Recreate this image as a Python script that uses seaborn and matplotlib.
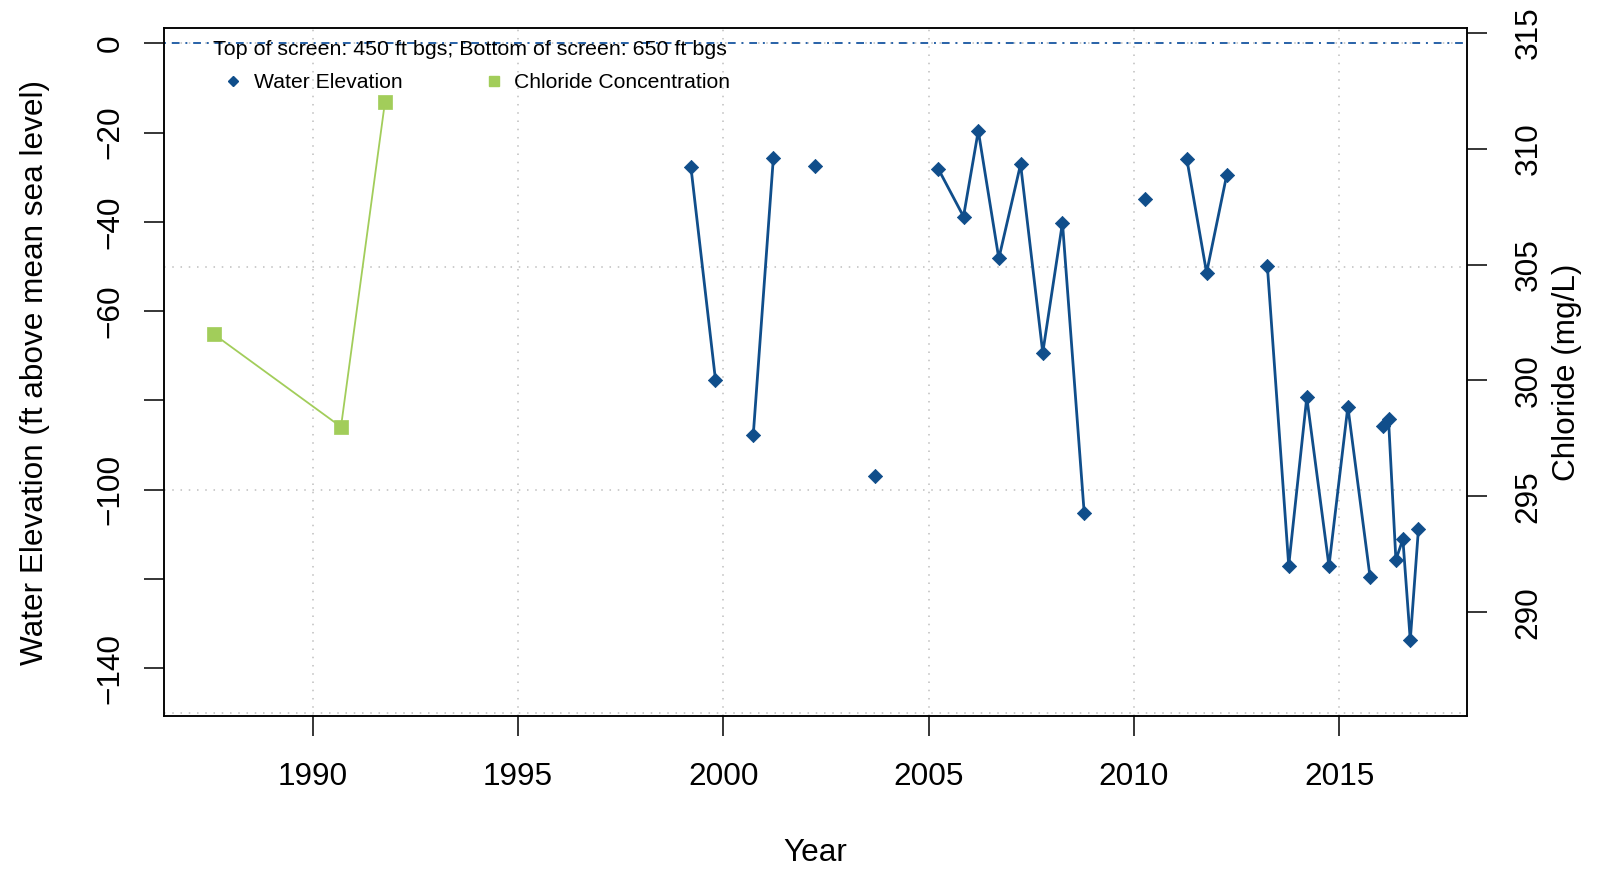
import matplotlib
matplotlib.use("Agg")
import matplotlib.pyplot as plt
from matplotlib.lines import Line2D
import pandas as pd
import seaborn as sns

# water elevation samples (ft above mean sea level); run id = samples joined by one line
elev_year = [1999.21, 1999.81, 2000.73, 2001.22, 2002.23, 2003.69, 2005.24, 2005.85,
             2006.21, 2006.71, 2007.24, 2007.78, 2008.26, 2008.79, 2010.27, 2011.29,
             2011.77, 2012.26, 2013.25, 2013.77, 2014.21, 2014.75, 2015.21, 2015.75,
             2016.06, 2016.20, 2016.38, 2016.55, 2016.73, 2016.93]
elev_ft = [-27.6, -75.4, -87.7, -25.6, -27.4, -96.9, -28.2, -38.8,
           -19.6, -48.2, -27.1, -69.3, -40.2, -105.3, -34.9, -26.0,
           -51.4, -29.5, -49.9, -117.0, -79.3, -117.1, -81.4, -119.5,
           -85.7, -84.2, -115.7, -111.1, -133.7, -108.7]
elev_run = [0, 0, 1, 1, 2, 3, 4, 4,
            4, 4, 4, 4, 4, 4, 5, 6,
            6, 6, 7, 7, 7, 7, 7, 7,
            8, 8, 8, 8, 8, 8]

# chloride samples (mg/L)
chl_year = [1987.59, 1990.69, 1991.76]
chl_mgl = [302, 298, 312]

x_ticks = [1990, 1995, 2000, 2005, 2010, 2015]
elev_ticks = [0, -20, -40, -60, -80, -100, -120, -140]
elev_tick_labels = ["0", "\u221220", "\u221240", "\u221260", "", "\u2212100", "", "\u2212140"]
chl_ticks = [290, 295, 300, 305, 310, 315]
grid_elev = [0, -50, -100, -150]

legend_labels = ["Water Elevation", "Chloride Concentration"]
note = "Top of screen: 450 ft bgs; Bottom of screen: 650 ft bgs"

blue = "#104E8B"
green = "#A2CD5A"
ref_blue = "#2862A8"
grid_col = "#BEBEBE"
big = 22.7

plt.rcParams['font.family'] = ['Liberation Sans', 'DejaVu Sans']

fig = plt.figure(figsize=(15.97, 8.71), dpi=100)
ax = fig.add_axes([0.1027, 0.1780, 0.8156, 0.7895])

for gx in x_ticks:
    ax.axvline(gx, color=grid_col, lw=1.1, ls=(0, (1, 4.4)), zorder=0)
for gy in grid_elev:
    ax.axhline(gy, color=grid_col, lw=1.1, ls=(0, (1, 4.4)), zorder=0)
ax.axhline(0, color=ref_blue, lw=1.4, ls=(0, (1, 3, 4, 3)), zorder=1)

elev = pd.DataFrame({"year": elev_year, "elev": elev_ft, "run": elev_run})
sns.lineplot(data=elev, x="year", y="elev", units="run", estimator=None,
             color=blue, lw=2.0, ax=ax, legend=False, zorder=2)
sns.scatterplot(data=elev, x="year", y="elev", marker="D", s=52, color=blue,
                edgecolor=blue, linewidth=0.6, ax=ax, legend=False, zorder=3)

ax2 = ax.twinx()
chl = pd.DataFrame({"year": chl_year, "chl": chl_mgl})
sns.lineplot(data=chl, x="year", y="chl", color=green, lw=1.3, ax=ax2, legend=False)
sns.scatterplot(data=chl, x="year", y="chl", marker="s", s=100, color=green,
                edgecolor=green, linewidth=0.5, ax=ax2, legend=False, zorder=3)

ax.set_xlim(1986.38, 2018.10)
ax.set_ylim(-150.68, 3.36)
ax2.set_ylim(285.53, 315.19)

ax.set_xticks(x_ticks)
ax.set_xticklabels([str(v) for v in x_ticks])
ax.set_yticks(elev_ticks)
ax.set_yticklabels(elev_tick_labels)
ax2.set_yticks(chl_ticks)
ax2.set_yticklabels([str(v) for v in chl_ticks])

ax.tick_params(axis="both", length=14.5, width=1.1, labelsize=big, direction="out")
ax.tick_params(axis="x", pad=19.0)
ax.tick_params(axis="y", pad=13.0, labelrotation=90)
ax2.tick_params(axis="y", length=14.5, width=1.1, labelsize=big, pad=19.4, labelrotation=90)
for lab in ax.get_yticklabels() + ax2.get_yticklabels():
    lab.set_verticalalignment("center")

for a in (ax, ax2):
    for sp in a.spines.values():
        sp.set_linewidth(1.1)
        sp.set_color("black")

ax.set_xlabel("Year", fontsize=big)
ax.xaxis.set_label_coords(0.5, -0.1775)
ax.set_ylabel("Water Elevation (ft above mean sea level)", fontsize=big)
ax.yaxis.set_label_coords(-0.0878, 0.5)
ax2.set_ylabel("Chloride (mg/L)", fontsize=big)
ax2.yaxis.set_label_coords(1.0655, 0.5)

ax2.text(0.0375, (716 - 55) / 687.7, note, transform=ax.transAxes,
         fontsize=15.4, ha="left", va="baseline", zorder=5)

handles = [Line2D([], [], marker="D", ls="None", color=blue, markersize=5.6),
           Line2D([], [], marker="s", ls="None", color=green, markersize=7.4)]
ax2.legend(handles, legend_labels, loc="center left",
           bbox_to_anchor=(226.95 / 1597, 1 - 82.5 / 871), bbox_transform=fig.transFigure,
           ncol=2, frameon=False, fontsize=15.2, handlelength=0.6, handletextpad=0.66,
           columnspacing=4.05, borderpad=0, borderaxespad=0)

fig.savefig("out.png", dpi=100)
